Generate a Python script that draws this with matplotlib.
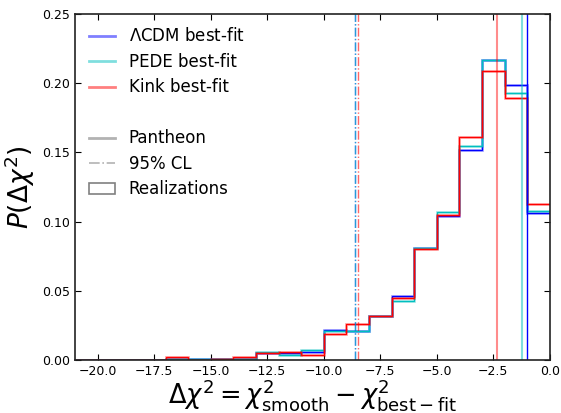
import matplotlib.pyplot as plt
from matplotlib.lines import Line2D
from matplotlib.patches import Patch
import numpy as np

# bin edges of the realization histograms
binEdges = np.arange(-21, 2, 1)

# heights per bin (from -21 to +1)
lcdmHeights = [0.0, 0.0, 0.0, 0.0, 0.001, 0.001, 0.001, 0.001, 0.005, 0.005, 0.006,
               0.022, 0.021, 0.032, 0.046, 0.081, 0.104, 0.152, 0.217, 0.199, 0.106, 0.106]
pedeHeights = [0.0, 0.0, 0.0, 0.0, 0.001, 0.001, 0.001, 0.001, 0.006, 0.004, 0.007,
               0.021, 0.021, 0.032, 0.043, 0.081, 0.107, 0.155, 0.217, 0.193, 0.108, 0.108]
kinkHeights = [0.0, 0.0, 0.0, 0.0, 0.002, 0.0, 0.001, 0.002, 0.005, 0.006, 0.004,
               0.019, 0.026, 0.032, 0.045, 0.080, 0.105, 0.161, 0.209, 0.189, 0.113, 0.113]

# observed Pantheon values and 95% CL of the realizations
bestFit = {'lcdm': -1.03, 'pede': -1.21, 'kink': -2.35}
cl95 = {'lcdm': -8.6, 'pede': -8.63, 'kink': -8.47}

colors = {'lcdm': 'blue', 'pede': 'c', 'kink': 'red'}
heights = {'lcdm': lcdmHeights, 'pede': pedeHeights, 'kink': kinkHeights}

fig = plt.figure(figsize=(5.61, 4.13), dpi=100)
ax = fig.add_axes([0.134, 0.128, 0.846, 0.838])

for key in ['lcdm', 'pede', 'kink']:
    h = heights[key]
    centers = binEdges[:-1] + 0.5
    ax.hist(centers, bins=binEdges, weights=h, histtype='step',
            color=colors[key], alpha=0.35, lw=2.0)
    ax.hist(centers, bins=binEdges, weights=h, histtype='step',
            color=colors[key], lw=0.9)

# best-fit and 95% CL lines
ax.axvline(bestFit['kink'], color='red', alpha=0.45, lw=1.5)
ax.axvline(bestFit['pede'], color='c', alpha=0.5, lw=1.5)
ax.axvline(bestFit['lcdm'], color='blue', lw=1.0)
ax.axvline(cl95['lcdm'], color='blue', alpha=0.6, lw=1.0, ls='-.')
ax.axvline(cl95['pede'], color='c', alpha=0.6, lw=1.0, ls='-.')
ax.axvline(cl95['kink'], color='red', alpha=0.6, lw=1.0, ls='-.')

ax.set_xlim(-21, 0)
ax.set_ylim(0, 0.25)
ax.set_xticks(np.arange(-20, 0.1, 2.5))
ax.set_yticks(np.arange(0, 0.26, 0.05))
ax.tick_params(direction='in', top=True, right=True, labelsize=9, length=4)
for s in ax.spines.values():
    s.set_linewidth(1.2)
    s.set_color('#222222')

ax.set_xlabel(r'$\Delta\chi^2 = \chi^2_{\rm smooth} - \chi^2_{\rm best-fit}$',
              fontsize=18.5, labelpad=-1)
ax.set_ylabel(r'$P(\Delta\chi^2)$', fontsize=19, labelpad=4)

handles = [
    Line2D([], [], color='blue', alpha=0.5, lw=2),
    Line2D([], [], color='c', alpha=0.5, lw=2),
    Line2D([], [], color='red', alpha=0.5, lw=2),
    Line2D([], [], color='none'),
    Line2D([], [], color='gray', alpha=0.6, lw=2),
    Line2D([], [], color='gray', alpha=0.6, lw=1.2, ls='-.'),
    Patch(facecolor='none', edgecolor='gray', lw=1.2),
]
labels = [r'$\Lambda$CDM best-fit', 'PEDE best-fit', 'Kink best-fit', ' ',
          'Pantheon', '95% CL', 'Realizations']
ax.legend(handles, labels, loc='upper left', frameon=False, fontsize=12,
          handlelength=1.6, handletextpad=0.8, labelspacing=0.45,
          borderaxespad=0.4)

fig.savefig('out.png', dpi=100)
